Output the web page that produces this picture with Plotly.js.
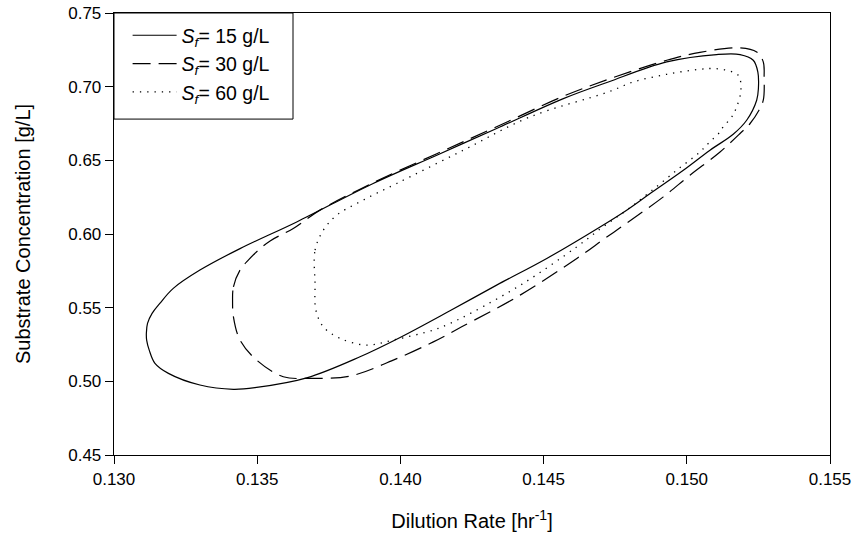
<!DOCTYPE html>
<html>
<head>
<meta charset="utf-8">
<script src="https://cdn.plot.ly/plotly-3.0.1.min.js"></script>
<style>html,body{margin:0;padding:0;background:#fff;}#chart{width:856px;height:536px;}</style>
</head>
<body>
<div id="chart"></div>
<script>
// Sf = 15 g/L
const d15 = [0.13113,0.13117,0.13133,0.13160,0.13207,0.13300,0.13440,0.13638,0.13905,0.14127,0.14336,0.14569,0.14726,0.14930,0.15104,0.15186,0.15232,0.15248,0.15250,0.15244,0.15209,0.15162,0.15081,0.14988,0.14872,0.14790,0.14697,0.14511,0.14336,0.14173,0.13999,0.13859,0.13673,0.13498,0.13417,0.13300,0.13190,0.13143,0.13123,0.13114,0.13113];
const s15 = [0.5327,0.5393,0.5461,0.5529,0.5631,0.5755,0.5901,0.6082,0.6343,0.6535,0.6716,0.6919,0.7032,0.7168,0.7218,0.7218,0.7179,0.7100,0.6987,0.6908,0.6772,0.6677,0.6569,0.6433,0.6275,0.6162,0.6048,0.5834,0.5653,0.5479,0.5298,0.5167,0.5024,0.4959,0.4946,0.4975,0.5054,0.5122,0.5212,0.5280,0.5327];
// Sf = 30 g/L
const d30 = [0.13414,0.13417,0.13440,0.13469,0.13504,0.13545,0.13626,0.13719,0.13905,0.14127,0.14336,0.14569,0.14726,0.14930,0.15046,0.15186,0.15244,0.15267,0.15270,0.15267,0.15252,0.15221,0.15186,0.15116,0.15011,0.14918,0.14813,0.14714,0.14616,0.14418,0.14214,0.14115,0.13975,0.13824,0.13673,0.13591,0.13498,0.13440,0.13417,0.13414];
const s30 = [0.5540,0.5641,0.5755,0.5823,0.5890,0.5953,0.6038,0.6162,0.6348,0.6545,0.6728,0.6935,0.7050,0.7179,0.7233,0.7263,0.7235,0.7168,0.7066,0.6908,0.6840,0.6750,0.6682,0.6557,0.6399,0.6252,0.6105,0.5970,0.5834,0.5585,0.5370,0.5268,0.5144,0.5036,0.5020,0.5031,0.5144,0.5280,0.5438,0.5540];
// Sf = 60 g/L
const d60 = [0.13702,0.13702,0.13731,0.13778,0.13870,0.13987,0.14220,0.14453,0.14726,0.14813,0.14930,0.15046,0.15093,0.15139,0.15180,0.15189,0.15174,0.15157,0.15127,0.15116,0.15093,0.15069,0.15046,0.14965,0.14872,0.14790,0.14707,0.14616,0.14429,0.14255,0.14173,0.14115,0.13975,0.13882,0.13789,0.13731,0.13705,0.13702];
const s60 = [0.5665,0.5890,0.6026,0.6128,0.6230,0.6343,0.6569,0.6795,0.6964,0.7032,0.7084,0.7118,0.7123,0.7111,0.7077,0.6976,0.6862,0.6795,0.6727,0.6693,0.6648,0.6603,0.6557,0.6433,0.6286,0.6162,0.6048,0.5913,0.5665,0.5472,0.5393,0.5348,0.5280,0.5246,0.5292,0.5370,0.5483,0.5665];

const names = ['<i>S</i><sub><i>f</i></sub>= 15 g/L','<i>S</i><sub><i>f</i></sub>= 30 g/L','<i>S</i><sub><i>f</i></sub>= 60 g/L'];
const xTickVals = [0.130,0.135,0.140,0.145,0.150,0.155];
const yTickVals = [0.45,0.50,0.55,0.60,0.65,0.70,0.75];

const traces = [
  {x:d15, y:s15, name:names[0], legendgroup:'a', mode:'lines', line:{color:'#000', width:1.2, shape:'spline', smoothing:1}},
  {x:d30, y:s30, name:names[1], legendgroup:'b', mode:'lines', line:{color:'#000', width:1.2, dash:'18px,8px', shape:'spline', smoothing:1}},
  {x:d60, y:s60, name:names[2], legendgroup:'c', mode:'lines', line:{color:'#000', width:1.3, dash:'1.3px,6px', shape:'spline', smoothing:1}}
];

const FAM = 'Liberation Sans, Arial, sans-serif';
const tickFont = {family:FAM, size:17, color:'#000'};
const titleFont = {family:FAM, size:20, color:'#000'};
const layout = {
  width:856, height:536,
  margin:{l:114, r:26, t:13, b:81},
  paper_bgcolor:'#fff', plot_bgcolor:'#fff',
  font:tickFont,
  showlegend:true,
  legend:{x:0.019, y:0.993, xanchor:'left', yanchor:'top', bgcolor:'rgba(0,0,0,0)', borderwidth:0,
    font:{family:FAM, size:19.5, color:'#000'},
    traceorder:'grouped', tracegroupgap:0, itemwidth:44},
  shapes:[{type:'rect', xref:'paper', yref:'paper', x0:0, x1:0.25, y0:0.760, y1:1, line:{color:'#000', width:1}, fillcolor:'#fff', layer:'below'}],
  xaxis:{range:[0.130,0.155], tickvals:xTickVals, ticktext:xTickVals.map(v=>v.toFixed(3)),
    showgrid:false, zeroline:false, showline:true, mirror:true, linecolor:'#000', linewidth:1.3,
    ticks:'outside', ticklen:8, tickwidth:1, tickcolor:'#000', tickfont:tickFont,
    title:{text:'Dilution Rate [hr<sup>-1</sup>]', font:titleFont, standoff:26}},
  yaxis:{range:[0.45,0.75], tickvals:yTickVals, ticktext:yTickVals.map(v=>v.toFixed(2)),
    showgrid:false, zeroline:false, showline:true, mirror:true, linecolor:'#000', linewidth:1.3,
    ticks:'outside', ticklen:8, tickwidth:1, tickcolor:'#000', tickfont:tickFont,
    title:{text:'Substrate Concentration [g/L]', font:titleFont, standoff:32}}
};
Plotly.newPlot('chart', traces, layout, {staticPlot:true, displayModeBar:false});
</script>
</body>
</html>
